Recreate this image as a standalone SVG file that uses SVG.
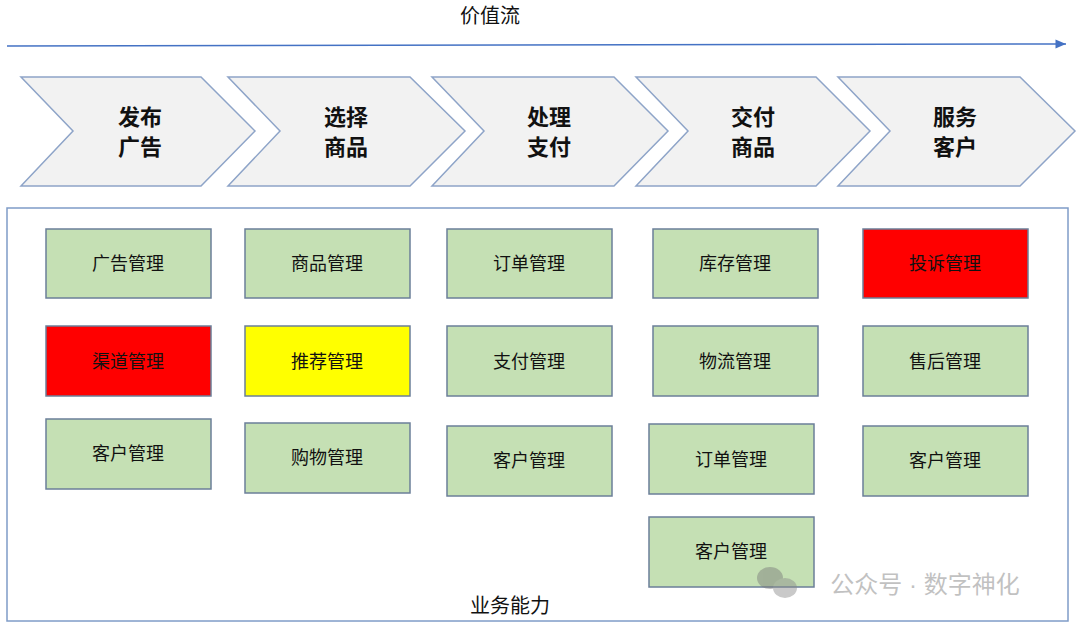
<svg xmlns="http://www.w3.org/2000/svg" width="1080" height="628" viewBox="0 0 1080 628">
<defs>
<style>
text{font-family:"Liberation Sans","Noto Sans CJK SC",sans-serif;text-anchor:middle;fill:#111}
.ch{fill:#f2f2f2;stroke:#8ea4c8;stroke-width:1.5}
.ct{font-size:22px;font-weight:bold}
.b{stroke:#6b7f99;stroke-width:1.5}
.g{fill:#c5e0b4}.r{fill:#ff0000}.y{fill:#ffff00}
.bt{font-size:18px}
</style>
<marker id="ah" markerWidth="8" markerHeight="8" refX="7" refY="4" orient="auto"><path d="M0,1 L7,4 L0,7 Z" fill="#4472c4"/></marker>
</defs>
<rect width="1080" height="628" fill="#fff"/>
<text x="490" y="23" style="font-size:20px">价值流</text>
<g id="connectors"><line x1="7" y1="46" x2="1066" y2="44" stroke="#4472c4" stroke-width="1.5" marker-end="url(#ah)"/></g>
<g id="chevrons">
<g id="c1"><path class="ch" d="M21,77 H201 L255,131 L201,186 H21 L73,131 Z"/><text class="ct" x="140" y="125">发布</text><text class="ct" x="140" y="155">广告</text></g>
<g id="c2"><path class="ch" d="M228,77 H410 L465,131 L410,186 H228 L280,131 Z"/><text class="ct" x="346" y="125">选择</text><text class="ct" x="346" y="155">商品</text></g>
<g id="c3"><path class="ch" d="M432,77 H614 L668,131 L614,186 H432 L484,131 Z"/><text class="ct" x="549" y="125">处理</text><text class="ct" x="549" y="155">支付</text></g>
<g id="c4"><path class="ch" d="M636,77 H816 L870,131 L816,186 H636 L688,131 Z"/><text class="ct" x="753" y="125">交付</text><text class="ct" x="753" y="155">商品</text></g>
<g id="c5"><path class="ch" d="M838,77 H1020 L1075,131 L1020,186 H838 L890,131 Z"/><text class="ct" x="955" y="125">服务</text><text class="ct" x="955" y="155">客户</text></g>
</g>
<rect x="7" y="208" width="1061" height="413" fill="none" stroke="#7f9cc8" stroke-width="1.5"/>
<g id="boxes">
<g id="n1"><rect class="b g" x="46" y="229" width="165" height="69"/><text class="bt" x="128" y="270">广告管理</text></g>
<g id="n2"><rect class="b r" x="46" y="326" width="165" height="70"/><text class="bt" x="128" y="368">渠道管理</text></g>
<g id="n3"><rect class="b g" x="46" y="419" width="165" height="70"/><text class="bt" x="128" y="460">客户管理</text></g>
<g id="n4"><rect class="b g" x="245" y="229" width="165" height="69"/><text class="bt" x="327" y="270">商品管理</text></g>
<g id="n5"><rect class="b y" x="245" y="326" width="165" height="70"/><text class="bt" x="327" y="368">推荐管理</text></g>
<g id="n6"><rect class="b g" x="245" y="423" width="165" height="70"/><text class="bt" x="327" y="464">购物管理</text></g>
<g id="n7"><rect class="b g" x="447" y="229" width="165" height="69"/><text class="bt" x="529" y="270">订单管理</text></g>
<g id="n8"><rect class="b g" x="447" y="326" width="165" height="70"/><text class="bt" x="529" y="368">支付管理</text></g>
<g id="n9"><rect class="b g" x="447" y="426" width="165" height="70"/><text class="bt" x="529" y="467">客户管理</text></g>
<g id="n10"><rect class="b g" x="653" y="229" width="165" height="69"/><text class="bt" x="735" y="270">库存管理</text></g>
<g id="n11"><rect class="b g" x="653" y="326" width="165" height="70"/><text class="bt" x="735" y="368">物流管理</text></g>
<g id="n12"><rect class="b g" x="649" y="424" width="165" height="70"/><text class="bt" x="731" y="466">订单管理</text></g>
<g id="n13"><rect class="b g" x="649" y="517" width="165" height="70"/><text class="bt" x="731" y="558">客户管理</text></g>
<g id="n14"><rect class="b r" x="863" y="229" width="165" height="69"/><text class="bt" x="945" y="270">投诉管理</text></g>
<g id="n15"><rect class="b g" x="863" y="326" width="165" height="70"/><text class="bt" x="945" y="368">售后管理</text></g>
<g id="n16"><rect class="b g" x="863" y="426" width="165" height="70"/><text class="bt" x="945" y="467">客户管理</text></g>
</g>
<text x="510" y="613" style="font-size:20px">业务能力</text>
<g id="watermark" opacity="0.45">
<ellipse cx="770" cy="578" rx="13" ry="11" fill="#777"/>
<ellipse cx="785" cy="588" rx="12" ry="10" fill="#888"/>
<text x="925" y="593" style="font-size:24px;fill:#777">公众号 · 数字神化</text>
</g>
</svg>
